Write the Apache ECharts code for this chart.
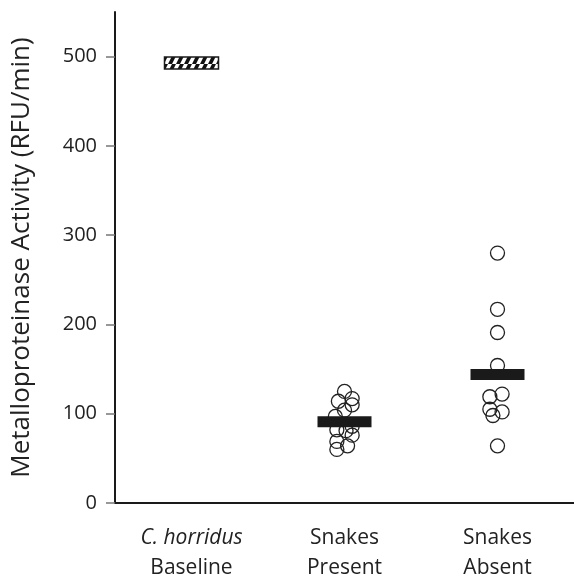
<!DOCTYPE html>
<html>
<head>
<meta charset="utf-8">
<script src="https://cdn.jsdelivr.net/npm/echarts@6/dist/echarts.min.js"></script>
<style>
  html, body { margin: 0; padding: 0; background: #fff; }
  #chart { width: 574px; height: 585px; }
</style>
</head>
<body>
<div id="chart"></div>
<script>
// groups on the x axis
var groups = ['C. horridus|Baseline', 'Snakes|Present', 'Snakes|Absent'];

// individual samples: [jitter around the group centre, RFU/min]
var presentPoints = [
  [0.00, 125], [0.05, 117], [-0.04, 114], [0.05, 110], [0.00, 104], [-0.06, 97],
  [0.05, 86], [-0.05, 82], [0.01, 81], [0.05, 76], [-0.05, 69], [0.02, 64], [-0.05, 60]
];
var absentPoints = [
  [0.00, 280], [0.00, 217], [0.00, 191], [0.00, 154], [-0.05, 119], [0.03, 122],
  [-0.05, 105], [0.03, 102], [-0.03, 98], [0.00, 64]
];

// group means (baseline is hatched)
var baselineValue = 493;
var presentMean = 91;
var absentMean = 144;

var yTicks = [0, 100, 200, 300, 400, 500];
var yMax = 550;

var FONT = 'Open Sans';
var TEXT = '#222';

function shift(points, idx) {
  return points.map(function (p) { return [idx + p[0], p[1]]; });
}

// diagonal hatch for the baseline bar
function hatch() {
  var c = document.createElement('canvas');
  c.width = 8; c.height = 8;
  var g = c.getContext('2d');
  g.fillStyle = '#fff';
  g.fillRect(0, 0, 8, 8);
  g.fillStyle = '#111';
  g.beginPath();
  g.moveTo(0, 8); g.lineTo(4, 8); g.lineTo(8, 0); g.lineTo(4, 0);
  g.closePath();
  g.fill();
  return c;
}
var hatchPattern = hatch();

function barItem(params, api) {
  var c = api.coord([api.value(0), api.value(1)]);
  var hatched = api.value(2) === 1;
  var h = hatched ? 12 : 11;
  return {
    type: 'rect',
    shape: { x: c[0] - 27, y: c[1] - h / 2, width: 54, height: h },
    style: hatched
      ? { fill: { image: hatchPattern, repeat: 'repeat' }, stroke: '#1a1a1a', lineWidth: 1.5 }
      : { fill: '#1a1a1a' }
  };
}

var chart = echarts.init(document.getElementById('chart'));

var option = {
  animation: false,
  grid: { left: 115, right: -3, top: 12, bottom: 82 },
  xAxis: [
    {
      type: 'category',
      data: groups,
      axisLine: { lineStyle: { color: '#1a1a1a', width: 2 } },
      axisTick: { length: 9, lineStyle: { color: '#777', width: 1.5 } },
      axisLabel: {
        margin: 20,
        formatter: function (v, i) {
          var parts = v.split('|');
          var first = i === 0 ? '{i|' + parts[0] + '}' : '{n|' + parts[0] + '}';
          return first + '\n{n|' + parts[1] + '}';
        },
        rich: {
          i: { fontFamily: FONT, fontSize: 21, fontStyle: 'italic', color: TEXT, lineHeight: 30 },
          n: { fontFamily: FONT, fontSize: 21, color: TEXT, lineHeight: 30 }
        }
      }
    },
    { type: 'value', min: -0.5, max: 2.5, show: false }
  ],
  yAxis: {
    type: 'value',
    min: 0,
    max: yMax,
    interval: 100,
    name: 'Metalloproteinase Activity (RFU/min)',
    nameLocation: 'middle',
    nameGap: 80,
    nameTextStyle: { fontFamily: FONT, fontSize: 26, color: TEXT },
    splitLine: { show: false },
    axisLine: { show: true, onZero: false, lineStyle: { color: '#1a1a1a', width: 2 } },
    axisTick: { show: true, length: 9, customValues: yTicks, lineStyle: { color: '#777', width: 1.5 } },
    axisLabel: { customValues: yTicks, margin: 18, fontFamily: FONT, fontSize: 20, color: TEXT }
  },
  series: [
    {
      type: 'scatter',
      xAxisIndex: 1,
      symbol: 'circle',
      symbolSize: 14,
      itemStyle: { color: 'rgba(0,0,0,0)', borderColor: '#222', borderWidth: 1.3, opacity: 1 },
      data: shift(presentPoints, 1).concat(shift(absentPoints, 2)),
      z: 2
    },
    {
      type: 'custom',
      xAxisIndex: 1,
      renderItem: barItem,
      data: [[0, baselineValue, 1], [1, presentMean, 0], [2, absentMean, 0]],
      z: 3
    }
  ]
};

chart.setOption(option);
</script>
</body>
</html>
